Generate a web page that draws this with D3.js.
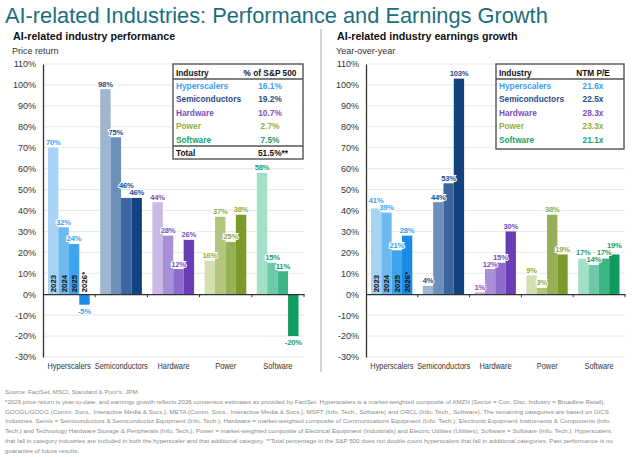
<!DOCTYPE html>
<meta charset="utf-8">
<script src="https://d3js.org/d3.v7.min.js"></script>
<style>
  body { margin: 0; background: #fff; }
  text { font-family: "Liberation Sans", Arial, sans-serif; }
</style>
<svg width="638" height="457"></svg>

<script>
// ---- data ----
var industries = ["Hyperscalers", "Semiconductors", "Hardware", "Power", "Software"];
var years = ["2023", "2024", "2025", "2026*"];

var priceReturn = {
  Hyperscalers:   [70, 32, 24, -5],
  Semiconductors: [98, 75, 46, 46],
  Hardware:       [44, 28, 12, 26],
  Power:          [16, 37, 25, 38],
  Software:       [58, 15, 11, -20]
};
var earningsGrowth = {
  Hyperscalers:   [41, 39, 21, 28],
  Semiconductors: [4, 44, 53, 103],
  Hardware:       [1, 12, 15, 30],
  Power:          [9, 3, 38, 19],
  Software:       [17, 14, 17, 19]
};

var shareOfSP = ["16.1%", "19.2%", "10.7%", "2.7%", "7.5%"];
var shareTotal = "51.5%**";
var ntmPE = ["21.6x", "22.5x", "28.3x", "23.3x", "21.1x"];
var yTicks = [-30, -20, -10, 0, 10, 20, 30, 40, 50, 60, 70, 80, 90, 100, 110];

// shades per industry (2023 -> 2026) and label colour
var shades = {
  Hyperscalers:   ["#a7d4f5", "#6dbaf1", "#40a3ee", "#1a8ce8"],
  Semiconductors: ["#9eb6d0", "#6c90ba", "#3a659e", "#12427f"],
  Hardware:       ["#cab9e4", "#a88fd8", "#8c6bcb", "#6a3db6"],
  Power:          ["#d4dfb1", "#b2c67e", "#97b055", "#7a9b2b"],
  Software:       ["#a3dfc7", "#6dc9a7", "#3db585", "#0f9b60"]
};
var textColor = {
  Hyperscalers: "#3a9ff0",
  Semiconductors: "#1f4d8c",
  Hardware: "#7a4fc2",
  Power: "#8fae3a",
  Software: "#17a06c"
};

var svg = d3.select("svg");

// title
svg.append("text")
  .attr("x", 5).attr("y", 23)
  .attr("font-size", 21.8)
  .attr("fill", "#1b6e7e")
  .text("AI-related Industries: Performance and Earnings Growth");

// divider between the two panels
svg.append("line")
  .attr("x1", 321).attr("x2", 321).attr("y1", 29).attr("y2", 372)
  .attr("stroke", "#c4c4c4").attr("stroke-width", 1.5);

function panel(opt) {
  var g = svg.append("g");

  g.append("text").attr("x", opt.titleX).attr("y", 40)
    .attr("font-size", 10.7).attr("font-weight", "bold").attr("fill", "#111")
    .text(opt.title);
  g.append("text").attr("x", opt.titleX - 1).attr("y", 54)
    .attr("font-size", 9).attr("fill", "#333")
    .text(opt.sub);

  var y = d3.scaleLinear().domain([-30, 110]).range([357, 64]);
  var x0 = d3.scaleBand().domain(industries).range([opt.x0, opt.x1]);
  var x1 = d3.scaleBand().domain(years).range([5, x0.bandwidth() - 5.5]);

  // grid
  g.append("g").selectAll("line")
    .data(yTicks.filter(function (d) { return d !== 0; }))
    .enter().append("line")
    .attr("x1", opt.x0).attr("x2", opt.x1)
    .attr("y1", function (d) { return y(d); }).attr("y2", function (d) { return y(d); })
    .attr("stroke", "#e8e8e8").attr("stroke-width", 1);

  // y axis
  var ya = g.append("g")
    .attr("transform", "translate(" + opt.x0 + ",0)")
    .call(d3.axisLeft(y).tickValues(yTicks).tickSize(0).tickPadding(7)
      .tickFormat(function (d) { return d + "%"; }));
  ya.select(".domain").attr("stroke", "#333").attr("stroke-width", 1.3);
  ya.selectAll("text").attr("font-size", 9).attr("fill", "#333")
    .attr("font-family", "Liberation Sans, Arial, sans-serif");

  // bars
  var rows = [];
  industries.forEach(function (ind) {
    opt.data[ind].forEach(function (v, i) {
      rows.push({ ind: ind, year: years[i], i: i, v: v });
    });
  });

  var grp = g.append("g");
  grp.selectAll("rect").data(rows).enter().append("rect")
    .attr("x", function (d) { return x0(d.ind) + x1(d.year); })
    .attr("width", x1.bandwidth())
    .attr("y", function (d) { return y(Math.max(0, d.v)); })
    .attr("height", function (d) { return Math.abs(y(d.v) - y(0)); })
    .attr("fill", function (d) { return shades[d.ind][d.i]; });

  // value labels, nudged up where neighbours collide
  rows.forEach(function (d) {
    d.lx = x0(d.ind) + x1(d.year) + x1.bandwidth() / 2;
    d.ly = d.v >= 0 ? y(d.v) - 2.5 : y(d.v) + 9;
  });
  var labels = grp.selectAll("text.val").data(rows).enter().append("text")
    .attr("class", "val")
    .attr("text-anchor", "middle")
    .attr("font-size", 7.6).attr("font-weight", "bold").attr("letter-spacing", -0.2)
    .attr("fill", function (d) { return textColor[d.ind]; })
    .attr("stroke", "#fff").attr("stroke-width", 2).attr("paint-order", "stroke")
    .text(function (d) { return d.v + "%"; })
    .each(function (d) { d.w = this.getComputedTextLength(); });
  for (var k = 1; k < rows.length; k++) {
    var a = rows[k - 1], b = rows[k];
    if (a.ind !== b.ind || a.v < 0 || b.v < 0) continue;
    var hOver = (a.w + b.w) / 2 - (b.lx - a.lx);
    if (hOver > 0 && Math.abs(a.ly - b.ly) < 7) {
      if (a.v >= b.v) a.ly = b.ly - 7; else b.ly = a.ly - 7;
    }
  }
  labels.attr("x", function (d) { return d.lx; }).attr("y", function (d) { return d.ly; });

  // year labels inside first group
  grp.selectAll("text.yr").data(years).enter().append("text")
    .attr("class", "yr")
    .attr("transform", function (d) {
      return "translate(" + (x0(industries[0]) + x1(d) + x1.bandwidth() / 2 + 3) + "," + (y(0) - 2) + ") rotate(-90)";
    })
    .attr("font-size", 7.8).attr("font-weight", "bold").attr("fill", "#111")
    .text(function (d) { return d; });

  // zero line with category ticks
  var xa = g.append("g")
    .attr("transform", "translate(0," + y(0) + ")")
    .call(d3.axisBottom(x0).tickSize(0).tickFormat(""));
  xa.select(".domain").attr("stroke", "#333").attr("stroke-width", 1.3);
  g.append("g").selectAll("line")
    .data(industries.slice(1).concat(["end"]))
    .enter().append("line")
    .attr("x1", function (d) { return d === "end" ? opt.x1 : x0(d); })
    .attr("x2", function (d) { return d === "end" ? opt.x1 : x0(d); })
    .attr("y1", y(0)).attr("y2", y(0) + 3)
    .attr("stroke", "#333").attr("stroke-width", 1);

  // category labels (slightly condensed, like the original)
  g.append("g").selectAll("text").data(industries).enter().append("text")
    .attr("x", function (d) { return x0(d) + x0.bandwidth() / 2; })
    .attr("y", 369)
    .attr("text-anchor", "middle")
    .attr("font-size", 8.6).attr("fill", "#333")
    .text(function (d) { return d; })
    .each(function () {
      var w = this.getComputedTextLength();
      d3.select(this).attr("textLength", w * 0.86).attr("lengthAdjust", "spacingAndGlyphs");
    });

  // table
  var t = opt.table;
  var tb = g.append("g");
  tb.append("rect")
    .attr("x", t.x).attr("y", 64).attr("width", t.w).attr("height", t.h)
    .attr("fill", "#fff").attr("stroke", "#555").attr("stroke-width", 1.4);
  tb.append("line").attr("x1", t.x).attr("x2", t.x + t.w).attr("y1", 79).attr("y2", 79)
    .attr("stroke", "#555").attr("stroke-width", 1.4);
  tb.append("text").attr("x", t.x + 3).attr("y", 75.5)
    .attr("font-size", 8.3).attr("font-weight", "bold").attr("fill", "#111").text("Industry");
  tb.append("text").attr("x", t.vx).attr("y", 75.5).attr("text-anchor", "middle")
    .attr("font-size", 8.3).attr("font-weight", "bold").attr("fill", "#111").text(t.head);
  industries.forEach(function (ind, i) {
    var yy = 89 + i * 13.4;
    tb.append("text").attr("x", t.x + 3).attr("y", yy)
      .attr("font-size", 8.3).attr("font-weight", "bold").attr("fill", textColor[ind])
      .text(ind);
    tb.append("text").attr("x", t.vx).attr("y", yy).attr("text-anchor", "middle")
      .attr("font-size", 8.3).attr("font-weight", "bold").attr("fill", textColor[ind])
      .text(t.vals[i]);
  });
  if (t.total) {
    tb.append("line").attr("x1", t.x).attr("x2", t.x + t.w).attr("y1", 146).attr("y2", 146)
      .attr("stroke", "#555").attr("stroke-width", 1.4);
    tb.append("text").attr("x", t.x + 3).attr("y", 156)
      .attr("font-size", 8.3).attr("font-weight", "bold").attr("fill", "#111").text("Total");
    tb.append("text").attr("x", t.vx + 3).attr("y", 156).attr("text-anchor", "middle")
      .attr("font-size", 8.3).attr("font-weight", "bold").attr("fill", "#111").text(t.total);
  }
}

panel({
  title: "AI-related industry performance", sub: "Price return", titleX: 13,
  x0: 43, x1: 304, data: priceReturn,
  table: { x: 173, w: 130, h: 95, vx: 270, head: "% of S&P 500", vals: shareOfSP, total: shareTotal }
});
panel({
  title: "AI-related industry earnings growth", sub: "Year-over-year", titleX: 337,
  x0: 366, x1: 625, data: earningsGrowth,
  table: { x: 496, w: 128, h: 85, vx: 593, head: "NTM P/E", vals: ntmPE }
});

// footnotes
var notes = [
  "Source: FactSet, MSCI, Standard & Poor's, JPM.",
  "*2026 price return is year-to-date, and earnings growth reflects 2026 consensus estimates as provided by FactSet. Hyperscalers is a market-weighted composite of AMZN (Sector = Con. Disc, Industry = Broadline Retail),",
  "GOOGL/GOOG (Comm. Svcs., Interactive Media & Svcs.), META (Comm. Svcs., Interactive Media & Svcs.), MSFT (Info. Tech., Software) and ORCL (Info. Tech., Software). The remaining categories are based on GICS",
  "Industries. Semis = Semiconductors & Semiconductor Equipment (Info. Tech.); Hardware = market-weighted composite of Communications Equipment (Info. Tech.), Electronic Equipment Instruments & Components (Info.",
  "Tech.) and Technology Hardware Storage & Peripherals (Info. Tech.); Power = market-weighted composite of Electrical Equipment (Industrials) and Electric Utilities (Utilities); Software = Software (Info. Tech.). Hyperscalers",
  "that fall in category industries are included in both the hyperscaler and that additional category. **Total percentage in the S&P 500 does not double count hyperscalers that fall in additional categories. Past performance is no",
  "guarantee of future results."
];
var noteWidths = [null, 600, 604, 606, 606, 608, null];
svg.append("g").selectAll("text").data(notes).enter().append("text")
  .attr("x", 5)
  .attr("y", function (d, i) { return 394 + i * 9.8; })
  .attr("font-size", 6.2).attr("fill", "#8a8a8a")
  .each(function (d, i) {
    if (noteWidths[i]) d3.select(this).attr("textLength", noteWidths[i]).attr("lengthAdjust", "spacingAndGlyphs");
  })
  .text(function (d) { return d; });
</script>
